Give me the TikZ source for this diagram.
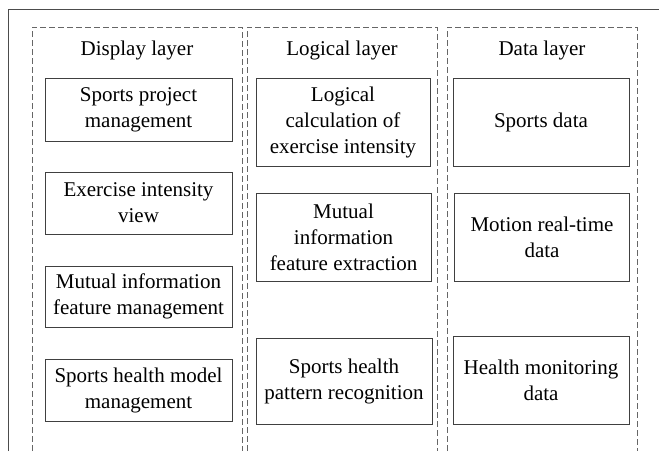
\documentclass[tikz,border=0pt]{standalone}
\usepackage{fontspec}
\setmainfont{Liberation Serif}
\newfontfamily\tnr{Liberation Serif}
\begin{document}
\begin{tikzpicture}[x=1pt,y=-1pt,
  frameline/.style={draw=black!70,line width=1pt},
  panel/.style={draw=black!60,line width=0.9pt,dash pattern=on 6pt off 3pt},
  box/.style={draw=black!75,line width=0.9pt,inner sep=0pt,align=center,
    font=\tnr\fontsize{21}{26}\selectfont},
  title/.style={inner sep=0pt,font=\tnr\fontsize{21}{26}\selectfont}]
\useasboundingbox (0,0) rectangle (659,451);
% outer frame
\coordinate (fa) at (8,451);
\coordinate (fb) at (8,9);
\coordinate (fc) at (659,9);
\draw[frameline] (fa) -- (fb) -- (fc);
% panels
\coordinate (p1a) at (32,451); \coordinate (p1b) at (32,27);
\coordinate (p1c) at (242,27); \coordinate (p1d) at (242,451);
\coordinate (p2a) at (247,451); \coordinate (p2b) at (247,27);
\coordinate (p2c) at (437,27); \coordinate (p2d) at (437,451);
\coordinate (p3a) at (447,451); \coordinate (p3b) at (447,27);
\coordinate (p3c) at (637,27); \coordinate (p3d) at (637,451);
\draw[panel] (p1a) -- (p1b) -- (p1c) -- (p1d);
\draw[panel] (p2a) -- (p2b) -- (p2c) -- (p2d);
\draw[panel] (p3a) -- (p3b) -- (p3c) -- (p3d);
% titles
\node[title] (t1) at (137,50) {Display layer};
\node[title] (t2) at (342,50) {Logical layer};
\node[title] (t3) at (542,50) {Data layer};
% display boxes
\node[box,minimum width=187pt,minimum height=63pt] (d1) at (138.5,109.5) {Sports project\\management};
\node[box,minimum width=187pt,minimum height=62pt] (d2) at (138.5,203) {Exercise intensity\\view};
\node[box,minimum width=187pt,minimum height=61pt] (d3) at (138.5,296.5) {Mutual information\\feature management};
\node[box,minimum width=187pt,minimum height=62pt] (d4) at (138.5,390) {Sports health model\\management};
% logical boxes
\node[box,minimum width=174pt,minimum height=88pt] (l1) at (343,122) {Logical\\calculation of\\exercise intensity};
\node[box,minimum width=175pt,minimum height=88pt] (l2) at (343.5,237) {Mutual\\information\\feature extraction};
\node[box,minimum width=176pt,minimum height=86pt] (l3) at (344,381) {Sports health\\pattern recognition};
% data boxes
\node[box,minimum width=176pt,minimum height=88pt] (a1) at (541,122) {Sports data};
\node[box,minimum width=175pt,minimum height=88pt] (a2) at (542,237) {Motion real-time\\data};
\node[box,minimum width=176pt,minimum height=88pt] (a3) at (541,380) {Health monitoring\\data};
\end{tikzpicture}
\end{document}
